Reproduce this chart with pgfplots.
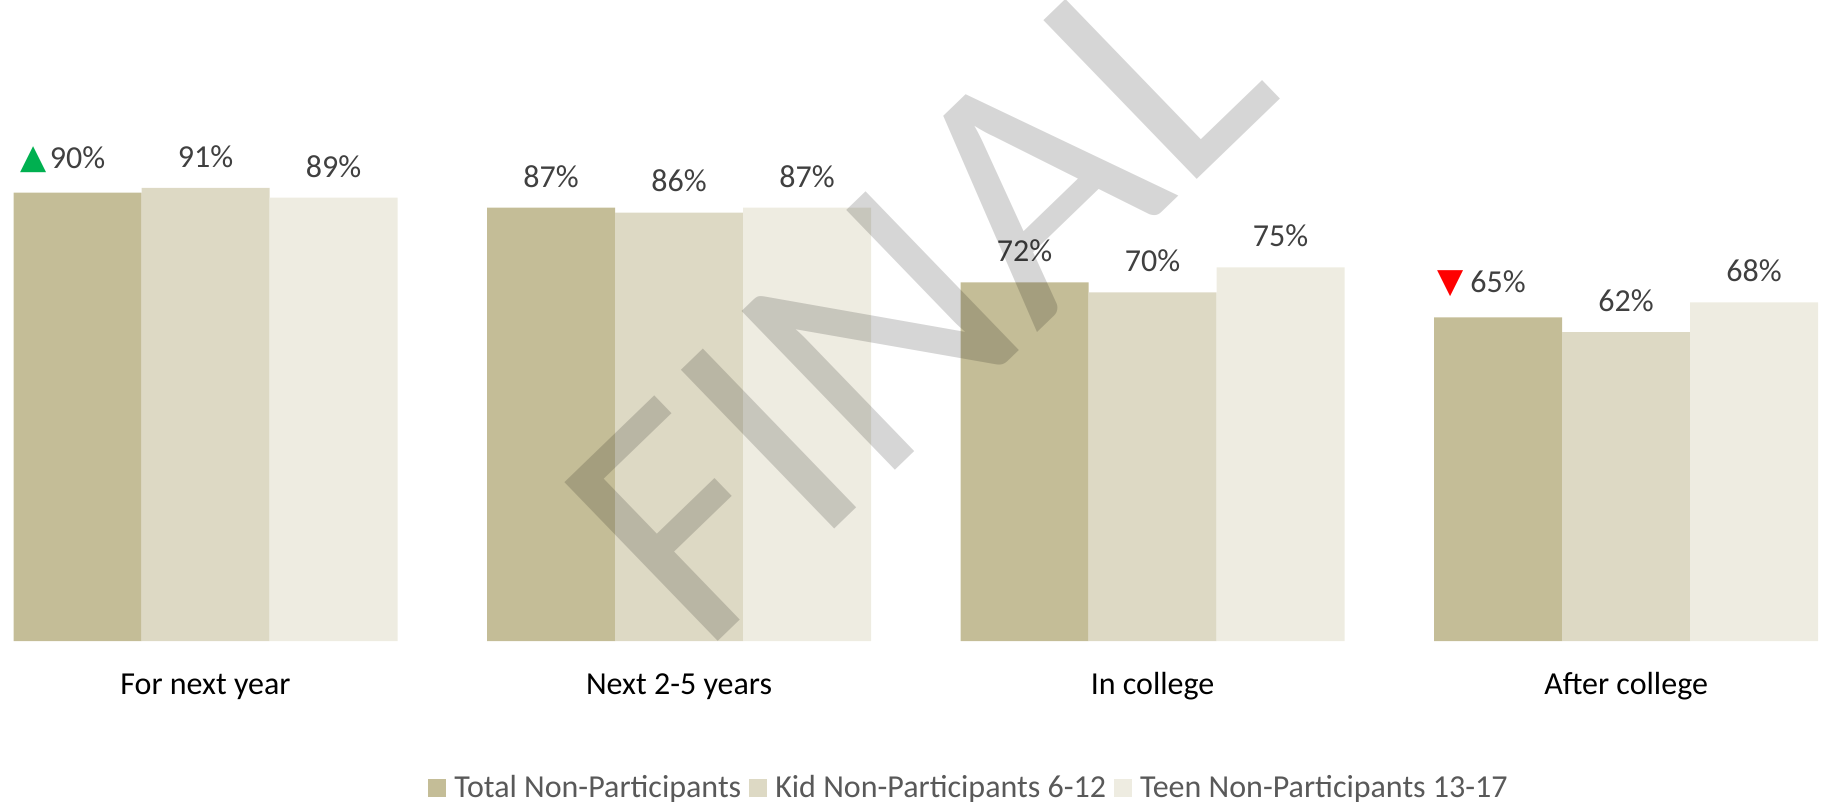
\documentclass[border=0pt]{standalone}
\usepackage{pgfplots}
\pgfplotsset{compat=1.18}
\usepackage{fontspec}
\setmainfont{Carlito}
\newfontfamily\djsym{DejaVu Sans}
\definecolor{c1}{HTML}{C4BD97}
\definecolor{c2}{HTML}{DDD9C4}
\definecolor{c3}{HTML}{EEECE1}
\definecolor{lbl}{HTML}{404040}
\definecolor{leg}{HTML}{595959}
\definecolor{up}{HTML}{00B050}
\definecolor{down}{HTML}{FF0000}
\pgfplotsset{sqlegend/.style={legend image code/.code={\fill[##1] (0pt,-4.6pt) rectangle (9pt,4.4pt);}}}
\begin{document}
\begin{tikzpicture}
\useasboundingbox (0,-80.5pt) rectangle (912pt,320.5pt);
\begin{axis}[
  at={(0,0)}, anchor=south west,
  scale only axis, width=912pt, height=320.5pt,
  ybar=0pt, bar width=64pt,
  xmin=-0.434, xmax=3.418, ymin=0, ymax=128.7,
  xtick={0,1,2,3},
  xticklabels={For next year, Next 2-5 years, In college, After college},
  ytick=\empty,
  axis line style={draw=none}, major tick length=0pt,
  xticklabel style={font=\fontsize{16}{19}\selectfont, text=black, anchor=base, inner sep=0pt, yshift=-26.5pt},
  point meta=explicit symbolic,
  nodes near coords,
  every node near coord/.append style={font=\fontsize{16}{19}\selectfont, text=lbl, anchor=south, inner sep=0pt, yshift=10pt},
  legend style={at={(0.5307,-0.2285)}, anchor=center, legend columns=-1, draw=none, fill=none,
    font=\fontsize{16}{19}\selectfont, text=leg,
    /tikz/every odd column/.style={column sep=4pt},
    /tikz/every even column/.style={column sep=4pt},
    nodes={inner sep=0pt}},
]
\addplot[fill=c1, draw=none, sqlegend] coordinates {
  (0,90) [{\llap{{\djsym\fontsize{17}{17}\selectfont\textcolor{up}{▲}}\hspace{1.5pt}}90\%}]
  (1,87) [87\%]
  (2,72) [72\%]
  (3,65) [{\llap{{\djsym\fontsize{17}{17}\selectfont\textcolor{down}{▼}}\hspace{3.5pt}}65\%}]
};
\addplot[fill=c2, draw=none, sqlegend] coordinates {
  (0,91) [91\%]
  (1,86) [86\%]
  (2,70) [70\%]
  (3,62) [62\%]
};
\addplot[fill=c3, draw=none, sqlegend] coordinates {
  (0,89) [89\%]
  (1,87) [87\%]
  (2,75) [75\%]
  (3,68) [68\%]
};
\legend{Total Non-Participants, Kid Non-Participants 6-12, Teen Non-Participants 13-17}
\end{axis}
\node[overlay, rotate=44, text=black, opacity=0.16, inner sep=0pt, font=\fontsize{172}{172}\selectfont] at (458pt,172pt) {FINAL};
\end{tikzpicture}
\end{document}
